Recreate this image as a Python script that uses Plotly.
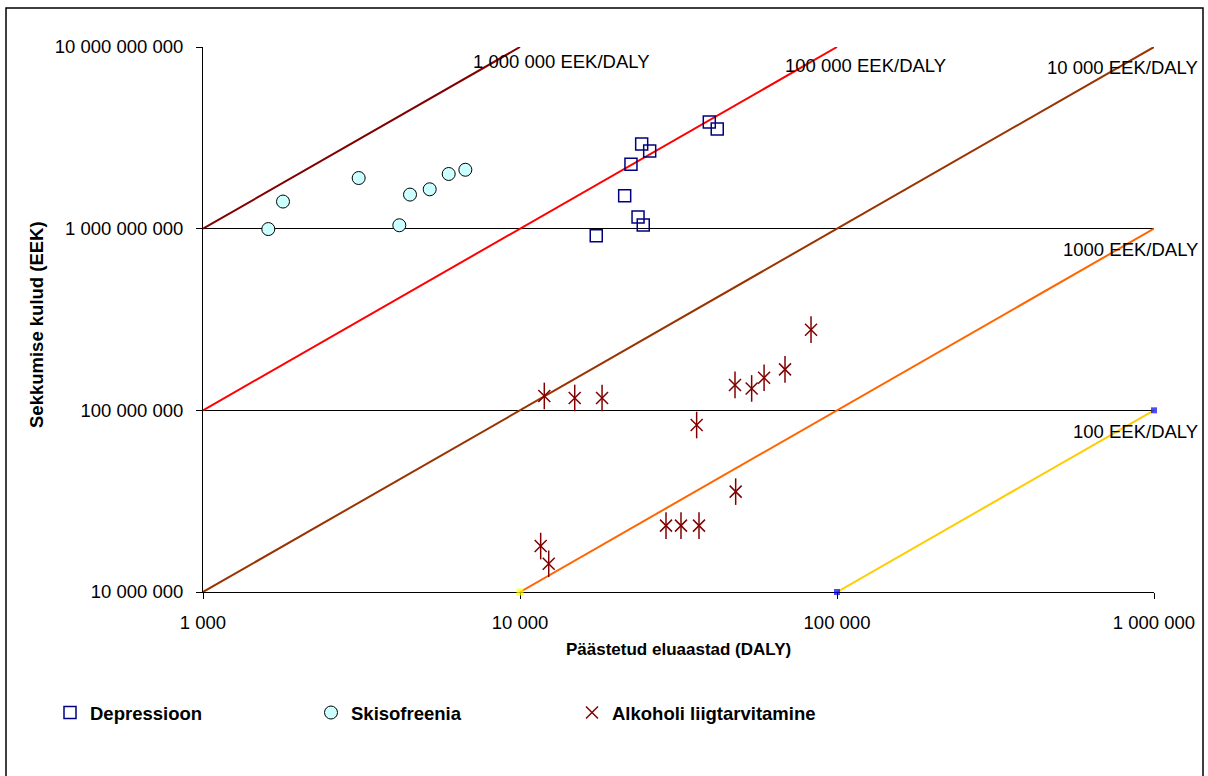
import plotly.graph_objects as go
import numpy as np

# ---------------- data ----------------
dep_daly = [39550, 41900, 24200, 25650, 22390, 21390, 23570, 24480, 17400]
dep_cost = [3.87e9, 3.54e9, 2.92e9, 2.68e9, 2.26e9, 1.52e9, 1.16e9, 1.047e9, 0.915e9]

ski_daly = [1607, 1788, 3098, 4162, 4498, 5190, 5958, 6723]
ski_cost = [0.995e9, 1.41e9, 1.90e9, 1.044e9, 1.54e9, 1.647e9, 2.0e9, 2.11e9]

alc_daly = [11930, 14880, 18150, 36080, 47670, 53800, 58880, 68550, 82800,
            11620, 12320, 28880, 32200, 36700, 47900]
alc_cost = [120e6, 117e6, 117e6, 83e6, 138e6, 132e6, 151e6, 168e6, 278e6,
            17.9e6, 14.3e6, 23.2e6, 23.2e6, 23.2e6, 35.7e6]

# cost-effectiveness reference lines (EEK per DALY)
ce_rates = [1e6, 1e5, 1e4, 1e3, 1e2]
ce_labels = ["1 000 000 EEK/DALY", "100 000 EEK/DALY", "10 000 EEK/DALY",
             "1000 EEK/DALY", "100 EEK/DALY"]
ce_x_start = [1000, 1000, 1000, 10000, 100000]
ce_x_end = [10000, 100000, 1000000, 1000000, 1000000]
ce_colors = ["#800000", "#FF0000", "#993300", "#FF6600", "#FFCC00"]
ce_marker_colors = [["#FF00FF", "#FF00FF"], ["#FF00FF", "#FF00FF"], ["#FF00FF", "#FF00FF"],
                    ["#FFFF00", "#FFFF00"], ["#0000FF", "#0000FF"]]
ce_marker_sizes = [[7, 0], [0, 0], [7, 0], [7, 0], [6, 6]]

x_tickvals = [1e3, 1e4, 1e5, 1e6]
x_ticktext = ["1 000", "10 000", "100 000", "1 000 000"]
y_tickvals = [1e7, 1e8, 1e9, 1e10]
y_ticktext = ["10 000 000", "100 000 000", "1 000 000 000", "10 000 000 000"]

FONT = "Liberation Sans, Arial, sans-serif"

fig = go.Figure()

for rate, xs, xe, col in zip(ce_rates, ce_x_start, ce_x_end, ce_colors):
    fig.add_trace(go.Scatter(
        x=[xs, xe], y=[rate * xs, rate * xe], mode="lines",
        line=dict(color=col, width=2),
        showlegend=False, hoverinfo="skip"))

# small endpoint markers (left on in the original chart)
for rate, xs, xe, mc, ms in zip(ce_rates, ce_x_start, ce_x_end, ce_marker_colors, ce_marker_sizes):
    fig.add_trace(go.Scatter(
        x=[xs, xe], y=[rate * xs, rate * xe], mode="markers",
        marker=dict(symbol="square", color=mc, size=ms, line=dict(width=0)),
        showlegend=False, hoverinfo="skip", cliponaxis=False))

fig.add_trace(go.Scatter(
    x=dep_daly, y=dep_cost, mode="markers", name="Depressioon",
    marker=dict(symbol="square-open", size=12, color="#000080", line=dict(width=1.5))))
fig.add_trace(go.Scatter(
    x=ski_daly, y=ski_cost, mode="markers", name="Skisofreenia",
    marker=dict(symbol="circle", size=13, color="#CCFFFF", line=dict(color="#000000", width=1))))
fig.add_trace(go.Scatter(
    x=alc_daly, y=alc_cost, mode="markers", name="Alkoholi liigtarvitamine",
    marker=dict(symbol="x-thin-open", size=12, color="#800000", line=dict(color="#800000", width=1.5))))
fig.add_trace(go.Scatter(
    x=alc_daly, y=alc_cost, mode="markers", showlegend=False,
    marker=dict(symbol="line-ns-open", size=19, color="#800000", line=dict(color="#800000", width=1.5))))

# plot area: x 203..1154, y 47..592
L, R, T, B = 203, 1154, 47, 592
W, H = R - L, B - T


def px(xp):
    return (xp - L) / W


def py(yp):
    return (B - yp) / H


annos = []
label_pos = [(471, 61, "left"), (783, 66, "left"), (1200, 67, "right"),
             (1200, 250, "right"), (1200, 431, "right")]
for lab, (ax_, ay_, anc) in zip(ce_labels, label_pos):
    annos.append(dict(text=lab, xref="paper", yref="paper", x=px(ax_), y=py(ay_),
                      xanchor=anc, yanchor="middle", showarrow=False,
                      font=dict(family=FONT, size=18.5, color="#000000")))

annos.append(dict(text="<b>Päästetud eluaastad (DALY)</b>", xref="paper", yref="paper",
                  x=px(678), y=py(650), xanchor="center", yanchor="middle", showarrow=False,
                  font=dict(family=FONT, size=17, color="#000000")))
annos.append(dict(text="<b>Sekkumise kulud (EEK)</b>", xref="paper", yref="paper",
                  x=px(37), y=py(325), xanchor="center", yanchor="middle", showarrow=False,
                  textangle=-90, font=dict(family=FONT, size=18.5, color="#000000")))

fig.update_layout(
    width=1208, height=776,
    margin=dict(l=L, r=1208 - R, t=T, b=776 - B, pad=0),
    paper_bgcolor="white", plot_bgcolor="white",
    font=dict(family=FONT, size=18.5, color="#000000"),
    annotations=annos,
    showlegend=True,
    legend=dict(orientation="h", x=px(50), y=py(694), xanchor="left", yanchor="top",
                entrywidth=216, entrywidthmode="pixels",
                font=dict(family=FONT, size=18.5, color="#000000", weight="bold"),
                bgcolor="rgba(0,0,0,0)", itemwidth=30),
    shapes=[dict(type="rect", xref="paper", yref="paper",
                 x0=px(6), x1=px(1203), y0=py(790), y1=py(8),
                 line=dict(color="#000000", width=1.5), fillcolor="rgba(0,0,0,0)",
                 layer="below")],
)

fig.update_xaxes(type="log", range=[3, 6], tickvals=x_tickvals, ticktext=x_ticktext,
                 showgrid=False, showline=True, linecolor="#000000", linewidth=1,
                 ticks="outside", ticklen=6, tickcolor="#000000",
                 ticklabelstandoff=8, zeroline=False, layer="below traces",
                 tickfont=dict(family=FONT, size=18.5, color="#000000"))
fig.update_yaxes(type="log", range=[7, 10], tickvals=y_tickvals, ticktext=y_ticktext,
                 showgrid=True, gridcolor="#000000", gridwidth=1,
                 showline=True, linecolor="#000000", linewidth=1,
                 ticks="outside", ticklen=6, tickcolor="#000000",
                 ticklabelstandoff=9, zeroline=False, layer="below traces",
                 tickfont=dict(family=FONT, size=18.5, color="#000000"))

fig.write_html("out.html")
